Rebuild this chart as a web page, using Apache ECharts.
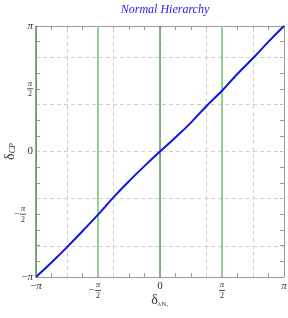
<!DOCTYPE html>
<html>
<head>
<meta charset="utf-8">
<script src="https://cdn.jsdelivr.net/npm/echarts@6/dist/echarts.min.js"></script>
<style>
html,body{margin:0;padding:0;background:#fff;}
#chart{width:288px;height:318px;}
</style>
</head>
<body>
<div id="chart"></div>
<script>
const PI = Math.PI;
// delta_lambdaN1 (x) vs delta_CP (y), radians
const xValues = [-3.1416, -2.75, -2.36, -1.96, -1.57, -1.18, -0.79, -0.39, 0, 0.39, 0.79, 1.18, 1.57, 1.96, 2.36, 2.75, 3.1416];
const yValues = [-3.1416, -2.78, -2.40, -1.99, -1.58, -1.15, -0.75, -0.36, 0, 0.35, 0.73, 1.14, 1.52, 1.94, 2.34, 2.75, 3.1416];
const greenDarkLines = [-PI, 0];
const greenLightLines = [-PI / 2, PI / 2];
const dashedGrid = [-3 * PI / 4, -3 * PI / 8, 0, 3 * PI / 8, 3 * PI / 4];
const tickLabelsX = {0: '−π', 4: 'm', 8: '0', 12: 'p', 16: 'π'};

const font = 'Liberation Serif';
const rich = {
  n: {fontFamily: font, fontSize: 9, fontStyle: 'italic', color: '#333', lineHeight: 8, align: 'center'},
  d: {fontFamily: font, fontSize: 8, color: '#333', lineHeight: 8, align: 'center'},
  m: {fontFamily: font, fontSize: 10, color: '#333', lineHeight: 3, width: 7, align: 'right'},
  s: {fontFamily: font, fontSize: 10, lineHeight: 3, width: 7},
  bar: {width: 6, height: 1, lineHeight: 3, backgroundColor: '#555'},
  t: {fontFamily: font, fontSize: 11, color: '#333'},
  ti: {fontFamily: font, fontSize: 11, color: '#333', fontStyle: 'italic'}
};
function fmt(v) {
  const k = Math.round((v + PI) / (PI / 8));
  const lab = tickLabelsX[k];
  if (lab === undefined) return '';
  if (lab === 'm') return '{n|π}\n{m|−}{bar| }{s| }\n{d|2}';
  if (lab === 'p') return '{n|π}\n{bar| }\n{d|2}';
  if (lab === '0') return '{t|0}';
  if (lab === 'π') return '{ti|π}';
  return '{t|−}{ti|π}';
}
const axisBase = {
  type: 'value', min: -PI, max: PI, interval: PI / 8,
  axisLine: {show: true, onZero: false, lineStyle: {color: '#999', width: 1}},
  axisTick: {show: true, inside: true, length: 4, lineStyle: {color: '#999'}},
  splitLine: {show: false}
};
const chart = echarts.init(document.getElementById('chart'));
chart.setOption({
  animation: false,
  title: {
    text: 'Normal Hierarchy', left: 160, top: -1, textAlign: 'center',
    textStyle: {fontFamily: font, fontStyle: 'italic', fontWeight: 'normal', fontSize: 12, color: '#2222ee'}
  },
  grid: {left: 36, right: 4, top: 26, bottom: 41, containLabel: false, outerBoundsMode: 'none'},
  xAxis: [
    Object.assign({}, axisBase, {
      position: 'bottom',
      axisLabel: {show: true, formatter: fmt, rich: rich, margin: 4, showMinLabel: true, showMaxLabel: true, hideOverlap: false},
      name: '{a|δ}{b|λN₁}', nameLocation: 'middle', nameGap: 16, nameMoveOverlap: false,
      nameTextStyle: {rich: {a: {fontFamily: font, fontSize: 14, color: '#333'}, b: {fontFamily: font, fontSize: 7, color: '#333', padding: [8, 0, 0, 0]}}}
    }),
    Object.assign({}, axisBase, {position: 'top', axisLabel: {show: false}})
  ],
  yAxis: [
    Object.assign({}, axisBase, {
      position: 'left',
      axisLabel: {show: true, formatter: fmt, rich: rich, margin: 3, showMinLabel: true, showMaxLabel: true, hideOverlap: false},
      name: '{a|δ}{b|CP}', nameLocation: 'middle', nameGap: 19, nameRotate: 90, nameMoveOverlap: false,
      nameTextStyle: {rich: {a: {fontFamily: font, fontSize: 14, color: '#333'}, b: {fontFamily: font, fontSize: 8, fontStyle: 'italic', color: '#333', padding: [6, 0, 0, 0]}}}
    }),
    Object.assign({}, axisBase, {position: 'right', axisLabel: {show: false}})
  ],
  series: [
    {
      type: 'line', data: xValues.map((x, i) => [x, yValues[i]]), symbol: 'none', z: 1,
      lineStyle: {opacity: 0}, silent: true,
      markLine: {
        silent: true, symbol: 'none', label: {show: false}, animation: false,
        data: [
          ...dashedGrid.map(v => ({xAxis: v, lineStyle: {color: '#cfcfcf', type: [4, 3], width: 1}})),
          ...dashedGrid.map(v => ({yAxis: v, lineStyle: {color: '#cfcfcf', type: [4, 3], width: 1}})),
          ...greenLightLines.map(v => ({xAxis: v, lineStyle: {color: '#93d093', type: 'solid', width: 2}})),
          ...greenDarkLines.map(v => ({xAxis: v, lineStyle: {color: '#5a985a', type: 'solid', width: 1.5}}))
        ]
      }
    },
    {
      type: 'line', data: xValues.map((x, i) => [x, yValues[i]]), symbol: 'none', smooth: true, z: 5,
      lineStyle: {color: '#1010f0', width: 2}
    }
  ]
});
</script>
</body>
</html>
